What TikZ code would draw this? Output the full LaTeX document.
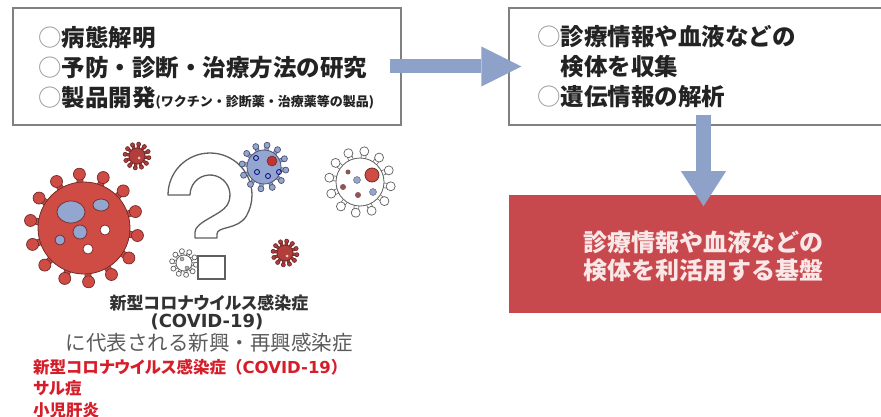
\documentclass[tikz,border=0pt]{standalone}
\usepackage{fontspec}
\setmainfont{Noto Sans CJK JP}
\newfontfamily\jpprop{Noto Sans CJK JP}[RawFeature=+palt]
\newfontfamily\latinfont{DejaVu Sans}
\usetikzlibrary{arrows.meta,calc}

\definecolor{framegray}{RGB}{128,128,128}
\definecolor{arrowblue}{RGB}{141,161,201}
\definecolor{basered}{RGB}{200,73,77}
\definecolor{basewhite}{RGB}{250,232,232}
\definecolor{textblack}{RGB}{35,35,35}
\definecolor{circgray}{RGB}{150,150,150}
\definecolor{capgray}{RGB}{50,50,50}
\definecolor{subgray}{RGB}{90,90,90}
\definecolor{textred}{RGB}{214,30,42}
\definecolor{virusred}{RGB}{206,76,68}
\definecolor{smallred}{RGB}{178,62,60}
\definecolor{virusdark}{RGB}{112,42,42}
\definecolor{virusblue}{RGB}{146,166,208}
\definecolor{bluedark}{RGB}{80,80,110}
\definecolor{linegray}{RGB}{95,95,95}

% grey circle bullet in front of each item
\newcommand{\ci}{{\mdseries\color{circgray}○}}

% virus: centre, body radius, spike length, spikes, knob radius, fill, outline
\newcommand{\virus}[7]{%
  \foreach \k in {1,...,#4}{%
    \pgfmathsetmacro{\ang}{360*\k/#4+8}
    \draw[draw=#7, line width={0.9*#5pt+1.4pt}]
      ($(#1)+(\ang:#2-1)$) -- ($(#1)+(\ang:#2+#3)$);
    \draw[draw=#6, line width={0.9*#5pt}]
      ($(#1)+(\ang:#2-1)$) -- ($(#1)+(\ang:#2+#3)$);
    \filldraw[fill=#6, draw=#7, line width=0.7pt] ($(#1)+(\ang:#2+#3)$) circle (#5);
  }
  \filldraw[fill=#6, draw=#7, line width=0.8pt] (#1) circle (#2);
}

\begin{document}
\begin{tikzpicture}[x=1pt,y=-1pt,
box/.style ={rectangle, draw=framegray, line width=1.5pt, fill=white,
  inner sep=0pt, minimum height=117pt
},
boxtext/.style ={anchor=west, align=left, inner sep=0pt, text=textblack,
  font=\bfseries\fontsize{23.5}{30}\selectfont
},
basetext/.style ={align=center, inner sep=0pt, text=basewhite,
  font=\bfseries\fontsize{24}{28}\selectfont
},
bigarrow/.style ={draw=arrowblue, line width=14pt},
spot/.style ={draw=virusdark, line width=0.7pt},
capbold/.style ={inner sep=0pt, text=capgray,
  font=\jpprop\bfseries\fontsize{17}{18}\selectfont
},
capsub/.style ={inner sep=0pt, text=subgray, font=\fontsize{20.5}{21}\selectfont},
redlist/.style ={anchor=west, inner sep=0pt, text=textred,
  font=\jpprop\bfseries\fontsize{16.5}{17}\selectfont
}]
\useasboundingbox (0,0) rectangle (881,417);

% boxes
\node (aims) at (207,66.5) [box, minimum width=388pt] {};
\node (collect) at (703.5,66.5) [box, minimum width=389pt] {};
\node (base) at (703.5,254) [box, draw=none, fill=basered, minimum width=389pt, minimum height=118pt] {};

\node (aimstext) at (38,68) [boxtext] {\ci{}病態解明\\\ci{}予防・診断・治療方法の研究\\\ci{}製品開発{\fontsize{13}{13}\selectfont (ワクチン・診断薬・治療薬等の製品)}};
\node (collecttext) at (537,67) [boxtext] {\ci{}診療情報や血液などの\\\hspace*{1em}検体を収集\\\ci{}遺伝情報の解析};
\node (basecap) at ([yshift=-2pt]base.center) [basetext] {診療情報や血液などの\\検体を利活用する基盤};

% arrows
\draw[bigarrow, -{Triangle[length=40pt,width=40pt,line width=0pt]}]
  ([xshift=-12pt]aims.east) -- ([xshift=13pt]collect.west);
\draw[bigarrow, line width=15pt, -{Triangle[length=35pt,width=45pt,line width=0pt]}]
  ([yshift=11pt]collect.south) -- ([yshift=-12pt]base.north);

% big red virus
\virus{84,228}{46}{8}{14}{6}{virusred}{virusdark}
\filldraw[spot, fill=virusblue] (71,212) ellipse [x radius=14, y radius=11];
\filldraw[spot, fill=virusblue] (101,205) ellipse [x radius=8, y radius=6];
\filldraw[spot, fill=virusblue] (80,232) circle (7);
\filldraw[spot, fill=virusblue] (60,240) circle (5);
\filldraw[spot, fill=white] (105,230) circle (5);
\filldraw[spot, fill=white] (88,249) circle (5);

% small red viruses
\virus{137,156}{8}{4}{12}{2}{smallred}{virusdark}
\fill[pink] (139,158) circle (1.5);
\virus{285,253}{8}{4}{12}{2}{smallred}{virusdark}
\fill[pink] (287,256) circle (1.5);

% question mark outline
\draw[linegray, line width=1.3pt, fill=white, line join=round]
  (168,195) arc[start angle=180, end angle=390, radius=42]
  .. controls (238,230) and (217,226) .. (217,234) -- (217,238)
  -- (195,238) -- (195,232)
  .. controls (195,222) and (221,215) .. (227.3,205)
  arc[start angle=390, end angle=180, radius=20] -- cycle;

% small outline virus and the dot of the question mark
\virus{184,263}{8}{4}{10}{2.5}{white}{linegray}
\filldraw[linegray, fill=gray!60] (182,259) circle (2);
\filldraw[linegray, fill=gray!60] (187,268) circle (2);
\filldraw[draw=linegray, fill=white, line width=1.2pt] (198,256) rectangle (225,279);

% blue virus
\virus{264,167}{17}{5}{12}{3}{virusblue}{bluedark}
\filldraw[draw=virusdark, fill=red!70!black!80, line width=0.6pt] (272,161) circle (5);
\foreach \p in {(256,158),(257,172),(268,176),(279,172)}
  \draw[draw=blue!50!black, line width=0.8pt] \p circle (2.5);

% white virus
\virus{360,182}{24}{7}{12}{4.5}{white}{linegray}
\filldraw[draw=virusdark, fill=virusred, line width=0.8pt] (372,175) circle (7);
\filldraw[draw=linegray, fill=virusblue] (357,180) circle (3.5);
\fill[virusdark!80] (348,172) circle (2.5);
\fill[virusdark!80] (343,187) circle (3);
\fill[virusdark!80] (358,195) circle (3);
\filldraw[draw=linegray, fill=virusblue] (373,192) circle (3.5);

% captions
\node (cov) at (209,303) [capbold] {新型コロナウイルス感染症};
\node (covid) at (207,322) [capbold, font=\latinfont\bfseries\fontsize{18}{18}\selectfont] {(COVID-19)};
\node (emerg) at (209,343) [capsub] {に代表される新興・再興感染症};
\node (red1) at (33,367) [redlist] {新型コロナウイルス感染症{\rmfamily （}{\latinfont\fontsize{16.5}{17}\selectfont COVID-19}{\rmfamily ）}};
\node (red2) at (33,388) [redlist] {サル痘};
\node (red3) at (33,410) [redlist] {小児肝炎};
\end{tikzpicture}
\end{document}
